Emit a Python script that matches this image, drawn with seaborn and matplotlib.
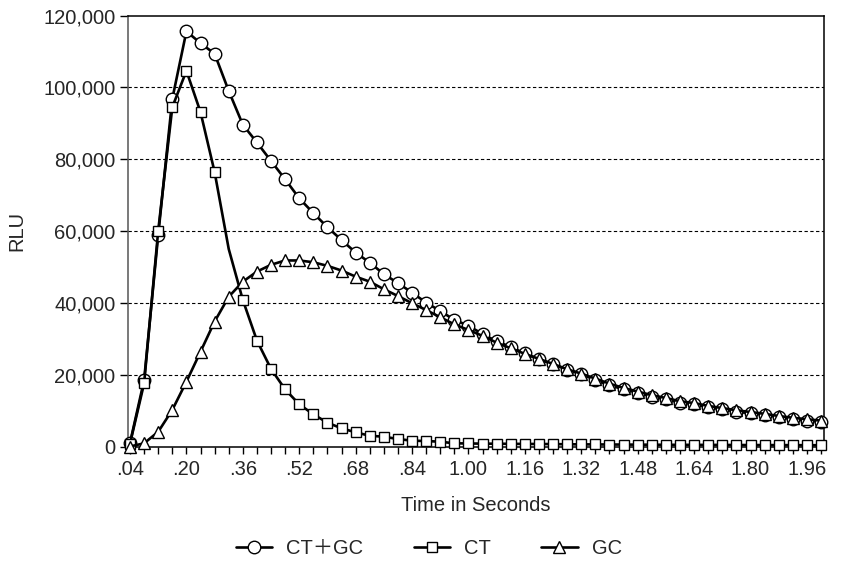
import numpy as np
import pandas as pd
import matplotlib
matplotlib.use("Agg")
import matplotlib.pyplot as plt
import seaborn as sns
from matplotlib.lines import Line2D
from matplotlib.ticker import FuncFormatter, FixedLocator

# ------------------------------------------------------
# Data
# ------------------------------------------------------
time_s = [round(0.04 * (i + 1), 2) for i in range(50)]

ct_gc = [1000, 18500, 58900, 96800, 115600, 112300, 109350, 99000, 89600, 84650,
         79500, 74400, 69100, 65000, 61050, 57500, 54000, 51200, 48000, 45500,
         42850, 40050, 37750, 35250, 33650, 31300, 29300, 27700, 25900, 24300,
         22900, 21400, 20200, 18500, 17100, 15900, 15000, 13900, 13150, 12200,
         11850, 10900, 10350, 9700, 9250, 8800, 8150, 7600, 7200, 6900]

ct = [800, 17600, 60100, 94500, 104600, 93100, 76400, 55000, 40800, 29500,
      21600, 15900, 11750, 8970, 6630, 5070, 3950, 3000, 2730, 2090,
      1620, 1530, 1340, 890, 850, 800, 780, 750, 720, 700,
      680, 620, 600, 580, 560, 540, 520, 500, 480, 470,
      460, 450, 440, 420, 410, 400, 390, 380, 370, 360]

gc = [0, 900, 4100, 10200, 18050, 26400, 34800, 41700, 45900, 48700,
      50600, 51800, 51800, 51300, 50300, 49000, 47300, 45900, 43800, 41900,
      39900, 38000, 36000, 34000, 32450, 30800, 28900, 27350, 25800, 24400,
      23000, 21500, 20300, 18900, 17500, 16300, 15300, 14300, 13500, 12600,
      12100, 11300, 10700, 10100, 9600, 9100, 8500, 8000, 7600, 7200]

# la valeur CT à .32 n'a pas de marqueur dans l'original
ct_marked = [i for i in range(len(ct)) if i != 7]

x_labels = [".04", ".20", ".36", ".52", ".68", ".84", "1.00", "1.16",
            "1.32", "1.48", "1.64", "1.80", "1.96"]
x_label_pos = [0.04 + 0.16 * k for k in range(len(x_labels))]
y_ticks = [0, 20000, 40000, 60000, 80000, 100000, 120000]

# ------------------------------------------------------
# Style
# ------------------------------------------------------
sns.set_theme(style="white")
plt.rcParams["font.family"] = ["Liberation Sans", "Noto Sans CJK JP", "DejaVu Sans"]
plt.rcParams["font.size"] = 14.5

fig = plt.figure(figsize=(8.41, 5.64), dpi=100)
ax = fig.add_axes([0.1522, 0.2083, 0.9798 - 0.1522, 0.9725 - 0.2083])

df = pd.DataFrame({"t": time_s, "ctgc": ct_gc, "ct": ct, "gc": gc})

common = dict(color="black", linewidth=1.9, markerfacecolor="white",
              markeredgecolor="black", markeredgewidth=1.0, clip_on=False, ax=ax)

sns.lineplot(data=df, x="t", y="ctgc", marker="o", markersize=9, zorder=3, **common)
sns.lineplot(data=df, x="t", y="ct", marker="s", markersize=6.5, markevery=ct_marked,
             zorder=4, **common)
sns.lineplot(data=df, x="t", y="gc", marker="^", markersize=8, zorder=5, **common)

# ------------------------------------------------------
# Axes
# ------------------------------------------------------
ax.set_xlim(0.04 - 0.0057, 2.00 + 0.0085)
ax.set_ylim(0, 120000)

ax.xaxis.set_major_locator(FixedLocator(x_label_pos))
ax.set_xticklabels(x_labels)
ax.xaxis.set_minor_locator(FixedLocator(time_s))
ax.set_yticks(y_ticks)
ax.yaxis.set_major_formatter(FuncFormatter(lambda v, p: f"{int(v):,}"))

ax.tick_params(axis="x", which="both", direction="out", length=5, width=1,
               color="black", bottom=True, labelsize=14.5, pad=5)
ax.tick_params(axis="y", which="major", direction="out", length=6, width=1,
               color="black", left=True, labelsize=14.5, pad=3)

for y in y_ticks[1:-1]:
    ax.axhline(y, color="black", linewidth=0.8, linestyle=(0, (3, 2.2)), zorder=1)

for side in ["top", "right", "bottom"]:
    ax.spines[side].set_color("black")
    ax.spines[side].set_linewidth(1.1)
ax.spines["left"].set_color("#555555")
ax.spines["left"].set_linewidth(1.1)

ax.set_xlabel("Time in Seconds", fontsize=14.5, labelpad=12)
ax.set_ylabel("RLU", fontsize=14.5, labelpad=12)

# ------------------------------------------------------
# Legend
# ------------------------------------------------------
handles = [
    Line2D([], [], color="black", lw=1.9, marker="o", markersize=9,
           markerfacecolor="white", markeredgecolor="black"),
    Line2D([], [], color="black", lw=1.9, marker="s", markersize=6.5,
           markerfacecolor="white", markeredgecolor="black"),
    Line2D([], [], color="black", lw=1.9, marker="^", markersize=8,
           markerfacecolor="white", markeredgecolor="black"),
]
fig.legend(handles, ["CT＋GC", "CT", "GC"], loc="center", bbox_to_anchor=(0.51, 0.028),
           ncol=3, frameon=False, fontsize=14.5, handlelength=1.8, handletextpad=0.7,
           columnspacing=2.5)

fig.savefig("out.png", dpi=100)
